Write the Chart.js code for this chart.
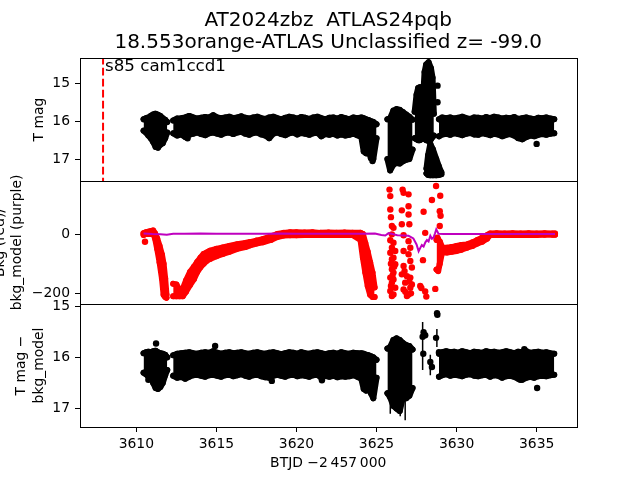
<!DOCTYPE html>
<html><head><meta charset="utf-8">
<script src="https://cdn.jsdelivr.net/npm/chart.js@4.4.1/dist/chart.umd.min.js"></script>
<style>html,body{margin:0;padding:0;background:#fff}#wrap{width:640px;height:480px}</style>
</head><body><div id="wrap"><canvas id="c" width="640" height="480"></canvas></div>
<script>
// ---------- labels / ticks ----------
const titleLines = ['AT2024zbz  ATLAS24pqb', '18.553orange-ATLAS Unclassified z= -99.0'];
const sectorLabel = 's85 cam1ccd1';
const sectorLineT = 3607.92;
const xTicks = [3610, 3615, 3620, 3625, 3630, 3635];
const magTicks = [15, 16, 17];
const bkgTicks = [-200, 0];

// ---------- top panel: T mag (upper / lower envelope of the dense point cloud) ----------
const tA = [3610.45, 3610.6, 3610.75, 3610.9, 3611.05, 3611.2, 3611.35, 3611.5, 3611.65, 3611.8, 3611.93];
const magA_hi = [15.95, 15.92, 15.9, 15.86, 15.82, 15.8, 15.83, 15.86, 15.92, 15.96, 16.02];
const magA_lo = [16.25, 16.3, 16.38, 16.45, 16.55, 16.68, 16.7, 16.62, 16.58, 16.45, 16.3];

const tB = [3612.3, 3612.55, 3612.8, 3613.05, 3613.3, 3613.55, 3613.8, 3614.05, 3614.3, 3614.55,
  3614.8, 3615.05, 3615.3, 3615.55, 3615.8, 3616.05, 3616.3, 3616.55, 3616.8, 3617.05,
  3617.3, 3617.55, 3617.8, 3618.05, 3618.3, 3618.55, 3618.8, 3619.05, 3619.3, 3619.55,
  3619.8, 3620.05, 3620.3, 3620.55, 3620.8, 3621.05, 3621.3, 3621.55, 3621.8, 3622.05,
  3622.3, 3622.55, 3622.8, 3623.05, 3623.3, 3623.55, 3623.8, 3624.05, 3624.2, 3624.35,
  3624.5, 3624.65, 3624.8, 3625.0];
const magB_hi = [15.98, 15.93, 15.92, 15.9, 15.86, 15.9, 15.93, 15.91, 15.89, 15.9,
  15.84, 15.9, 15.92, 15.9, 15.88, 15.92, 15.9, 15.87, 15.91, 15.93,
  15.9, 15.88, 15.92, 15.94, 15.9, 15.88, 15.92, 15.95, 15.91, 15.88,
  15.9, 15.93, 15.89, 15.91, 15.94, 15.9, 15.88, 15.92, 15.95, 15.91,
  15.9, 15.93, 15.89, 15.92, 15.95, 15.9, 15.92, 15.9, 15.92, 15.95,
  15.97, 16.0, 16.02, 16.08];
const magB_lo = [16.32, 16.38, 16.35, 16.42, 16.36, 16.33, 16.3, 16.34, 16.37, 16.32,
  16.3, 16.33, 16.36, 16.31, 16.3, 16.34, 16.3, 16.28, 16.33, 16.36,
  16.31, 16.3, 16.35, 16.38, 16.45, 16.33, 16.3, 16.34, 16.37, 16.32,
  16.3, 16.35, 16.31, 16.33, 16.36, 16.32, 16.3, 16.4, 16.34, 16.36,
  16.33, 16.38, 16.35, 16.38, 16.36, 16.33, 16.37, 16.42, 16.8, 16.85,
  16.78, 16.98, 17.0, 16.45];

const tC = [3625.68, 3625.85, 3626.05, 3626.25, 3626.45, 3626.65, 3626.85, 3627.05, 3627.25];
const magC_hi = [15.95, 15.92, 15.72, 15.68, 15.7, 15.76, 15.82, 15.88, 15.96];
const magC_lo = [17.0, 17.3, 17.15, 17.1, 17.12, 17.06, 17.02, 17.0, 16.75];

const tD = [3627.38, 3627.5, 3627.6, 3627.7, 3627.8, 3627.9, 3628.0, 3628.1, 3628.25, 3628.4, 3628.5, 3628.58];
const magD_hi = [15.75, 15.3, 15.12, 15.1, 15.18, 15.45, 14.7, 14.5, 14.44, 14.6, 14.85, 15.8];
const magD_lo = [16.45, 16.48, 16.5, 16.5, 16.48, 16.46, 16.46, 16.5, 16.52, 16.48, 16.42, 16.38];

const tS = [3628.12, 3628.22, 3628.36, 3628.52, 3628.73, 3628.9, 3629.05];
const magS_hi = [17.25, 16.9, 16.6, 16.74, 17.0, 17.2, 17.35];
const magS_lo = [17.38, 17.42, 17.43, 17.43, 17.43, 17.42, 17.4];

const tF = [3628.9, 3629.1, 3629.35, 3629.6, 3629.85, 3630.1, 3630.35, 3630.6, 3630.85, 3631.1,
  3631.35, 3631.6, 3631.85, 3632.1, 3632.35, 3632.6, 3632.85, 3633.1, 3633.35, 3633.6,
  3633.85, 3634.1, 3634.35, 3634.6, 3634.85, 3635.1, 3635.35, 3635.6, 3635.85, 3636.1];
const magF_hi = [15.95, 15.9, 15.92, 15.9, 15.93, 15.91, 15.88, 15.92, 15.94, 15.9,
  15.91, 15.93, 15.89, 15.92, 15.88, 15.9, 15.93, 15.91, 15.92, 15.89,
  15.94, 15.92, 15.9, 15.93, 15.95, 15.91, 15.92, 15.9, 15.93, 15.95];
const magF_lo = [16.4, 16.35, 16.33, 16.36, 16.32, 16.34, 16.37, 16.33, 16.31, 16.35,
  16.36, 16.32, 16.34, 16.37, 16.33, 16.35, 16.4, 16.36, 16.34, 16.38,
  16.45, 16.48, 16.42, 16.38, 16.4, 16.36, 16.34, 16.36, 16.33, 16.32];

const magDots_t = [3628.81, 3628.81, 3635.0, 3613.2, 3624.75];
const magDots_v = [15.06, 15.5, 16.6, 16.45, 17.05];

// ---------- middle panel: background (red) and background model (purple) ----------
const tR1 = [3610.45, 3610.6, 3610.75, 3610.9, 3611.05, 3611.17, 3611.3, 3611.45, 3611.6, 3611.7, 3611.8, 3611.88];
const bkgR1_hi = [3, 6, 8, 10, 12, 2, -15, -40, -70, -100, -150, -205];
const bkgR1_lo = [-3, 0, 0, 0, 2, -15, -50, -95, -150, -205, -212, -215];

const tR2 = [3612.3, 3612.5, 3612.7, 3612.9, 3613.1, 3613.35, 3613.6, 3613.8, 3614.0, 3614.2,
  3614.4, 3614.6, 3615.0, 3615.4, 3615.8, 3616.3, 3616.8, 3617.1, 3617.5, 3617.9,
  3618.4, 3618.8, 3619.2, 3619.6, 3620.0, 3620.5, 3621.0, 3621.5, 3622.0, 3622.5,
  3623.0, 3623.5, 3624.0, 3624.15, 3624.3, 3624.45, 3624.6, 3624.75, 3624.88];
const bkgR2_hi = [-168, -170, -190, -185, -157, -128, -110, -94, -80, -67,
  -62, -56, -50, -45, -40, -34, -30, -27, -22, -17,
  -8, 0, 4, 6, 6, 5, 6, 4, 5, 4,
  5, 4, 4, 0, -30, -60, -95, -130, -180];
const bkgR2_lo = [-210, -210, -210, -210, -195, -172, -152, -128, -112, -100,
  -90, -84, -75, -67, -60, -50, -44, -38, -32, -28,
  -20, -10, -5, -4, -4, -3, -3, -3, -2, -3,
  -2, -3, -20, -80, -130, -175, -205, -212, -212];

const tR3 = [3628.75, 3628.85, 3628.95, 3629.1, 3629.4, 3629.7, 3630.0, 3630.3, 3630.65, 3631.0,
  3631.3, 3631.6, 3631.9, 3632.1, 3632.5, 3633.0, 3633.5, 3634.0, 3634.5, 3635.0,
  3635.5, 3636.0, 3636.15];
const bkgR3_hi = [-20, -18, -25, -45, -46, -44, -40, -37, -35, -28,
  -20, -12, -4, 2, 3, 2, 3, 2, 3, 2, 3, 2, 2];
const bkgR3_lo = [-120, -125, -100, -60, -62, -60, -57, -53, -46, -40,
  -32, -26, -16, -3, -2, -3, -2, -3, -2, -3, -2, -2, -2];

const bkgDots_t = [3610.54,
  3625.81, 3625.86, 3625.86, 3625.9, 3625.96, 3626.06, 3625.96, 3625.86, 3626.06, 3625.96,
  3626.17, 3625.86, 3626.06, 3625.96, 3626.17, 3625.96, 3626.06, 3625.86, 3626.06, 3625.96,
  3626.17, 3625.86, 3626.06, 3625.96, 3625.9, 3626.1, 3625.9, 3626.0,
  3626.63, 3626.69, 3627.0, 3627.0, 3626.58, 3627.0, 3626.58, 3627.05, 3626.69, 3627.0,
  3627.11, 3626.69, 3627.0, 3627.11, 3626.69, 3627.21, 3626.58, 3626.9, 3627.11, 3626.79,
  3627.21, 3626.69, 3627.0, 3627.11, 3626.9, 3626.8, 3627.05, 3626.75, 3627.15,
  3627.94, 3628.04, 3627.9, 3627.73, 3628.04, 3628.11, 3627.8,
  3628.72, 3628.98, 3628.46, 3628.95, 3629.0, 3628.95, 3628.67, 3628.8];
const bkgDots_v = [-26,
  150, 128, 83, 57, 27, 21, -1, -21, -29, -46,
  -57, -63, -80, -85, -102, -119, -130, -147, -153, -164,
  -181, -192, -204, -209, -175, -110, -100, -140,
  150, 139, 134, 94, 80, 66, 33, 33, -4, -24,
  -46, -57, -68, -91, -108, -113, -136, -142, -147, -164,
  -170, -187, -204, -181, -209, -195, -160, -125, -200,
  75, 4, -88, -175, -194, -211, -182,
  162, 129, 115, 77, 62, 27, -185, -12];

const tM = [3610.45, 3611.0, 3611.5, 3611.9, 3612.3, 3613, 3614, 3615, 3616, 3617,
  3618, 3619, 3620, 3621, 3622, 3623, 3624, 3624.9, 3625.3, 3625.55,
  3625.75, 3626.0, 3626.3, 3626.7, 3627.0, 3627.3, 3627.5, 3627.63, 3627.75, 3627.83,
  3627.94, 3628.05, 3628.15, 3628.25, 3628.36, 3628.46, 3628.56, 3628.65, 3628.73, 3628.87,
  3629.2, 3630, 3631, 3632, 3633, 3634, 3635, 3636.15];
const bkgModel = [2, 0, -1, -2, 1, 1, 2, 1, 1, 1,
  1, 2, 1, 1, 1, 1, 1, 2, -3, -5,
  3, 0, -4, -5, -6, -15, -35, -58, -45, -37,
  -42, -28, -20, -25, -6, -16, -12, 2, 16, 1,
  0, 0, 0, 0, 0, 0, 0, 0];

// ---------- bottom panel: T mag - bkg_model ----------
const diffA_hi = [15.92, 15.9, 15.89, 15.9, 15.88, 15.87, 15.9, 15.92, 15.93, 15.95, 16.0];
const diffA_lo = [16.3, 16.33, 16.38, 16.4, 16.5, 16.6, 16.62, 16.58, 16.5, 16.35, 16.25];
const diffB_hi = [15.96, 15.93, 15.92, 15.91, 15.9, 15.92, 15.93, 15.91, 15.9, 15.91,
  15.88, 15.91, 15.93, 15.91, 15.9, 15.92, 15.91, 15.9, 15.92, 15.93,
  15.91, 15.9, 15.92, 15.93, 15.91, 15.9, 15.92, 15.94, 15.92, 15.9,
  15.91, 15.93, 15.9, 15.92, 15.93, 15.91, 15.9, 15.92, 15.94, 15.92,
  15.91, 15.93, 15.9, 15.92, 15.93, 15.91, 15.92, 15.92, 15.93, 15.95,
  15.96, 15.98, 16.0, 16.05];
const diffB_lo = [16.36, 16.4, 16.38, 16.42, 16.38, 16.35, 16.34, 16.36, 16.38, 16.35,
  16.34, 16.36, 16.38, 16.35, 16.34, 16.37, 16.35, 16.33, 16.36, 16.38,
  16.35, 16.34, 16.37, 16.39, 16.4, 16.36, 16.34, 16.36, 16.38, 16.35,
  16.34, 16.37, 16.35, 16.36, 16.38, 16.35, 16.34, 16.4, 16.36, 16.38,
  16.36, 16.39, 16.37, 16.38, 16.37, 16.35, 16.38, 16.42, 16.62, 16.65,
  16.6, 16.7, 16.8, 16.4];
const diffC_hi = [15.83, 15.8, 15.66, 15.63, 15.66, 15.72, 15.76, 15.78, 15.85];
const diffC_lo = [16.7, 16.78, 16.95, 17.0, 17.05, 16.78, 16.8, 16.75, 16.6];
const diffF_hi = [15.93, 15.9, 15.88, 15.9, 15.89, 15.91, 15.88, 15.9, 15.92, 15.89,
  15.9, 15.91, 15.88, 15.9, 15.89, 15.91, 15.9, 15.88, 15.9, 15.92,
  15.89, 15.9, 15.88, 15.91, 15.9, 15.89, 15.91, 15.9, 15.92, 15.93];
const diffF_lo = [16.38, 16.35, 16.33, 16.36, 16.34, 16.35, 16.37, 16.34, 16.33, 16.36,
  16.37, 16.35, 16.34, 16.38, 16.35, 16.36, 16.4, 16.37, 16.36, 16.38,
  16.42, 16.44, 16.4, 16.38, 16.4, 16.37, 16.36, 16.37, 16.35, 16.34];
const diffDots_t = [3627.88, 3627.94, 3628.04, 3627.92, 3628.36, 3628.46, 3628.78, 3628.8, 3628.72, 3628.9,
  3611.23, 3610.75, 3614.92, 3618.46, 3621.59, 3624.76, 3634.23, 3633.98, 3635.03];
const diffDots_v = [15.6, 15.51, 15.57, 15.93, 16.09, 16.19, 15.14, 15.17, 15.62, 15.9,
  15.73, 16.44, 15.78, 16.46, 16.45, 16.73, 15.84, 16.44, 16.6];
const diffErr_t = [3625.86, 3626.48, 3626.79, 3627.88, 3628.36, 3628.77];
const diffErr_top = [16.5, 16.8, 16.8, 15.31, 15.95, 15.45];
const diffErr_bot = [17.1, 17.15, 17.23, 16.25, 16.35, 15.8];

// ---------- building the chart ----------
const BLACK = '#000000', RED = '#ff0000', PURPLE = '#bf00bf';
function pts(t, v) { return t.map((x, i) => ({x: x, y: v[i]})); }
function band(t, hi, lo, axis, color) {
  const common = {yAxisID: axis, borderColor: color, backgroundColor: color,
    pointBackgroundColor: color, pointBorderWidth: 0, pointRadius: 3, borderWidth: 6,
    borderJoinStyle: 'round', borderCapStyle: 'round', tension: 0, clip: 0};
  return [
    Object.assign({}, common, {data: pts(t, hi), fill: '+1'}),
    Object.assign({}, common, {data: pts(t, lo), fill: false})
  ];
}
function dots(t, v, axis, color) {
  return {yAxisID: axis, data: pts(t, v), showLine: false, pointRadius: 3.2,
    pointBorderWidth: 0, pointBackgroundColor: color, borderColor: color, clip: 0};
}
function errBars(t, a, b, axis) {
  const d = [];
  t.forEach((x, i) => { d.push({x: x, y: a[i]}, {x: x, y: b[i]}, {x: x, y: null}); });
  return {yAxisID: axis, data: d, borderColor: BLACK, borderWidth: 1.5, pointRadius: 0,
    spanGaps: false, fill: false, clip: 0};
}

const datasets = [];
datasets.push({yAxisID: 'yBkg', data: pts(tM, bkgModel), borderColor: PURPLE, borderWidth: 2,
  pointRadius: 0, fill: false, tension: 0, clip: 0});
datasets.push({yAxisID: 'yTop', data: [{x: sectorLineT, y: 14.3}, {x: sectorLineT, y: 17.6}],
  borderColor: RED, borderWidth: 2, borderDash: [7.7, 3.3], pointRadius: 0, fill: false, clip: 0});
// middle
datasets.push(...band(tR1, bkgR1_hi, bkgR1_lo, 'yBkg', RED));
datasets.push(...band(tR2, bkgR2_hi, bkgR2_lo, 'yBkg', RED));
datasets.push(...band(tR3, bkgR3_hi, bkgR3_lo, 'yBkg', RED));
datasets.push(dots(bkgDots_t, bkgDots_v, 'yBkg', RED));
// top
datasets.push(...band(tA, magA_hi, magA_lo, 'yTop', BLACK));
datasets.push(...band(tB, magB_hi, magB_lo, 'yTop', BLACK));
datasets.push(...band(tC, magC_hi, magC_lo, 'yTop', BLACK));
datasets.push(...band(tD, magD_hi, magD_lo, 'yTop', BLACK));
datasets.push(...band(tS, magS_hi, magS_lo, 'yTop', BLACK));
datasets.push(...band(tF, magF_hi, magF_lo, 'yTop', BLACK));
datasets.push(dots(magDots_t, magDots_v, 'yTop', BLACK));
// bottom
datasets.push(...band(tA, diffA_hi, diffA_lo, 'yDiff', BLACK));
datasets.push(...band(tB, diffB_hi, diffB_lo, 'yDiff', BLACK));
datasets.push(...band(tC, diffC_hi, diffC_lo, 'yDiff', BLACK));
datasets.push(...band(tF, diffF_hi, diffF_lo, 'yDiff', BLACK));
datasets.push(dots(diffDots_t, diffDots_v, 'yDiff', BLACK));
datasets.push(errBars(diffErr_t, diffErr_top, diffErr_bot, 'yDiff'));

const FONT = 'DejaVu Sans';
const tickFont = {family: FONT, size: 13.9};
const minus = v => (v < 0 ? '\u2212' + Math.abs(v) : String(v));
function yAxis(opts) {
  return Object.assign({
    type: 'linear', position: 'left', stack: 'panels', stackWeight: 1,
    border: {display: false},
    grid: {display: true, drawOnChartArea: false, drawTicks: true, tickLength: 5, color: '#000', lineWidth: 1},
    ticks: {color: '#000', font: tickFont, padding: 5, callback: minus},
    afterFit: s => { s.width = 80; }
  }, opts);
}

const overlay = {
  id: 'overlay',
  afterDatasetsDraw(chart) {
    const {ctx, chartArea: ca, scales} = chart;
    ctx.save();
    ctx.strokeStyle = '#000';
    ctx.lineWidth = 1;
    ['yTop', 'yBkg', 'yDiff'].forEach(id => {
      const s = scales[id];
      ctx.strokeRect(Math.round(ca.left) + 0.5, Math.round(s.top) + 0.5,
        Math.round(ca.right - ca.left), Math.round(s.bottom - s.top));
    });
    ctx.fillStyle = '#000';
    ctx.font = '16.67px "' + FONT + '"';
    ctx.textBaseline = 'alphabetic';
    ctx.textAlign = 'left';
    ctx.fillText(sectorLabel, scales.x.getPixelForValue(sectorLineT) + 2, scales.yTop.top + 13);
    // figure title, centred over the axes
    ctx.font = '20px "' + FONT + '"';
    ctx.textAlign = 'center';
    ctx.textBaseline = 'middle';
    const cx = (ca.left + ca.right) / 2;
    titleLines.forEach((line, i) => ctx.fillText(line, cx, 20.5 + i * 22.5));
    ctx.restore();
  }
};

new Chart(document.getElementById('c'), {
  type: 'line',
  data: {datasets: datasets},
  plugins: [overlay],
  options: {
    responsive: false, animation: false, devicePixelRatio: 1,
    layout: {padding: {left: 0, right: 63.5, top: 58, bottom: 0}},
    plugins: {legend: {display: false}, tooltip: {enabled: false}, title: {display: false}},
    scales: {
      x: {type: 'linear', min: 3606.48, max: 3637.49, position: 'bottom',
        border: {display: false},
        grid: {display: true, drawOnChartArea: false, drawTicks: true, tickLength: 5, color: '#000', lineWidth: 1},
        ticks: {color: '#000', font: tickFont, padding: 4, maxRotation: 0, callback: v => String(v)},
        afterBuildTicks: s => { s.ticks = xTicks.map(v => ({value: v})); },
        afterFit: s => { s.height = 53; },
        title: {display: true, text: 'BTJD \u22122\u2009457\u2009000', color: '#000',
          font: {family: FONT, size: 13.9, lineHeight: '18px'}, padding: {top: 0, bottom: 8}}
      },
      yTop: yAxis({weight: 3, reverse: true, min: 14.33, max: 17.58,
        afterBuildTicks: s => { s.ticks = magTicks.map(v => ({value: v})); },
        title: {display: true, text: 'T mag', color: '#000',
          font: {family: FONT, size: 13.9, lineHeight: '18px'}, padding: {top: 30, bottom: 0}}}),
      yBkg: yAxis({weight: 2, min: -236, max: 179,
        afterBuildTicks: s => { s.ticks = bkgTicks.map(v => ({value: v})); },
        title: {display: true, text: ['Bkg (red)/', 'bkg_model (purple)'], color: '#000',
          font: {family: FONT, size: 13.9, lineHeight: '17px'}, padding: {top: -8, bottom: 0}}}),
      yDiff: yAxis({weight: 1, reverse: true, min: 14.96, max: 17.36,
        afterBuildTicks: s => { s.ticks = magTicks.map(v => ({value: v})); },
        title: {display: true, text: ['T mag \u2212', 'bkg_model'], color: '#000',
          font: {family: FONT, size: 13.9, lineHeight: '18px'}, padding: {top: 12, bottom: 0}}})
    }
  }
});
</script></body></html>
